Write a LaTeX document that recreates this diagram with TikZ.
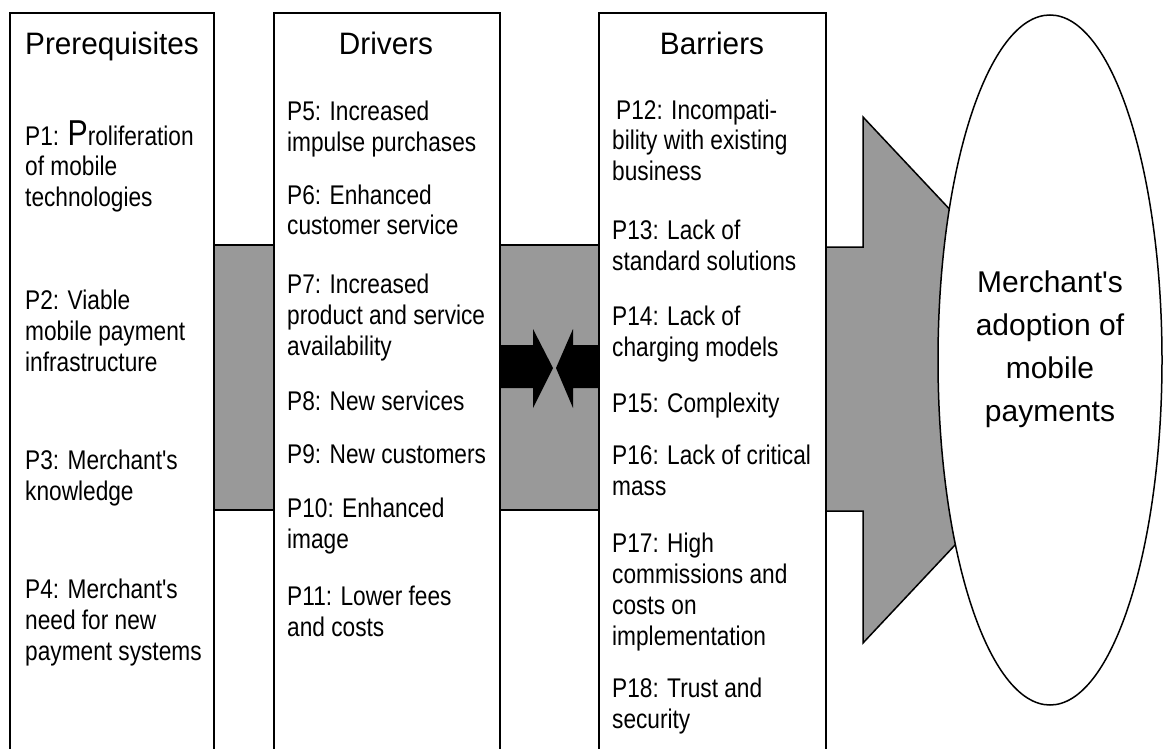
\documentclass[tikz,border=0pt]{standalone}
\usepackage{fontspec}
\setmainfont{Liberation Sans}
\newfontfamily\itemfamily[FakeStretch=0.84]{Liberation Sans}
\newfontfamily\headfamily[FakeStretch=0.96]{Liberation Sans}
\newfontfamily\ovalfamily{Liberation Sans}
\usetikzlibrary{shapes.geometric}

\definecolor{bandgray}{RGB}{153,153,153}

\tikzset{
  col/.style={draw, fill=white, line width=1.5pt},
  band/.style={draw, fill=bandgray, line width=1.5pt},
  head/.style={anchor=base, inner sep=0pt, font=\headfamily\fontsize{31}{31}\selectfont},
  % base of a multi-line node sits on its last line
  prop/.style={anchor=base west, inner sep=0pt, align=left, font=\itemfamily\fontsize{27}{31}\selectfont}
}

\begin{document}
\begin{tikzpicture}[x=1pt,y=-1pt]
  \useasboundingbox (0,0) rectangle (1163,749);
  \clip (0,0) rectangle (1163,749);

    % grey bands between the columns
    \draw[band] (214,245) rectangle (274,510);
    \draw[band] (500,245) rectangle (599,510);

    % big arrow into the ellipse
    \draw[band] (826,247) -- (863,247) -- (863,117) -- (1110,380) -- (863,643) -- (863,511) -- (826,511) -- cycle;

    % columns
    \draw[col] (10,13) rectangle (214,770);
    \draw[col] (274,13) rectangle (500,770);
    \draw[col] (599,13) rectangle (826,770);

    % drivers against barriers
    \fill (500,345) -- (533,345) -- (533,329) -- (553,368) -- (533,408) -- (533,388) -- (500,388) -- cycle;
    \fill (599,345) -- (573,345) -- (573,329) -- (556,368) -- (573,408) -- (573,388) -- (599,388) -- cycle;

    % outcome
    \node[draw, fill=white, ellipse, line width=1.5pt, inner sep=0pt,
          minimum width=224pt, minimum height=690pt] (adoption) at (1050,360) {};
    \node[align=center, inner sep=0pt, font=\ovalfamily\fontsize{30}{43}\selectfont]
          (adoptlabel) at ([yshift=11pt]adoption.center) {Merchant's\\adoption of\\mobile\\payments};

    % Prerequisites
    \node[head] (prereq) at (112,55) {Prerequisites};
    \node[prop] (p1) at (25,207) {P1: {\fontsize{36}{31}\selectfont P}roliferation\\of mobile\\technologies};
    \node[prop] (p2) at (25,371) {P2: Viable\\mobile payment\\infrastructure};
    \node[prop] (p3) at (25,500) {P3: Merchant's\\knowledge};
    \node[prop] (p4) at (25,660) {P4: Merchant's\\need for new\\payment systems};

    % Drivers
    \node[head] (drivers) at (386,55) {Drivers};
    \node[prop] (p5) at (287,152) {P5: Increased\\impulse purchases};
    \node[prop] (p6) at (287,235) {P6: Enhanced\\customer service};
    \node[prop] (p7) at (287,355) {P7: Increased\\product and service\\availability};
    \node[prop] (p8) at (287,410) {P8: New services};
    \node[prop] (p9) at (287,463) {P9: New customers};
    \node[prop] (p10) at (287,548) {P10: Enhanced\\image};
    \node[prop] (p11) at (287,636) {P11: Lower fees\\and costs};

    % Barriers
    \node[head] (barriers) at (712,55) {Barriers};
    \node[prop] (p12) at (612,181) {\hspace*{4pt}P12: Incompati-\\bility with existing\\business};
    \node[prop] (p13) at (612,270) {P13: Lack of\\standard solutions};
    \node[prop] (p14) at (612,356) {P14: Lack of\\charging models};
    \node[prop] (p15) at (612,412) {P15: Complexity};
    \node[prop] (p16) at (612,495) {P16: Lack of critical\\mass};
    \node[prop] (p17) at (612,645) {P17: High\\commissions and\\costs on\\implementation};
    \node[prop] (p18) at (612,728) {P18: Trust and\\security};

\end{tikzpicture}
\end{document}
